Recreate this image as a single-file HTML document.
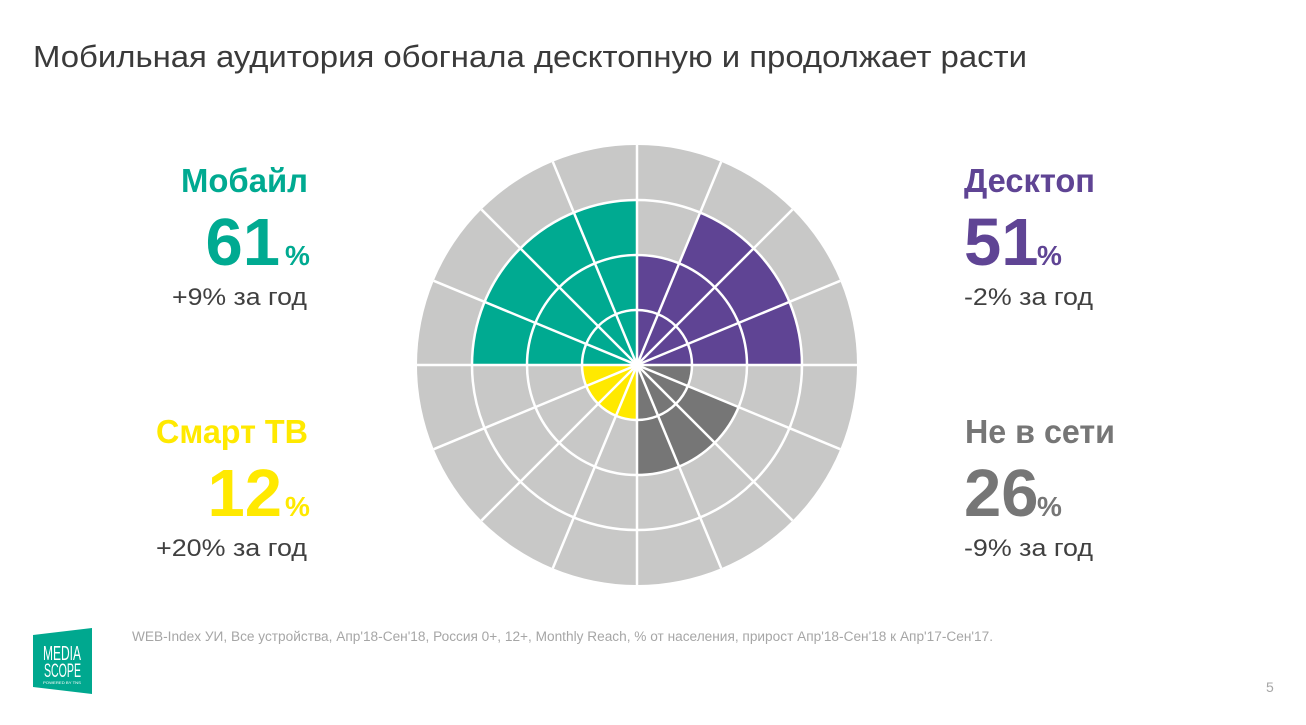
<!DOCTYPE html>
<html>
<head>
<meta charset="utf-8">
<style>
  html, body { margin:0; padding:0; background:#fff; }
  body { width:1306px; height:725px; overflow:hidden; }
  svg { display:block; }
  text { font-family: "Liberation Sans", "Noto Sans CJK SC", sans-serif; }
</style>
</head>
<body>
<svg width="1306" height="725" viewBox="0 0 1306 725" xmlns="http://www.w3.org/2000/svg">
  <rect width="1306" height="725" fill="#ffffff"/>

  <!-- Title -->
  <text x="33" y="67" font-size="31" fill="#3a3a3a" textLength="994" lengthAdjust="spacingAndGlyphs">Мобильная аудитория обогнала десктопную и продолжает расти</text>

  <!-- Polar chart -->
  <circle cx="637" cy="365" r="220" fill="#c8c8c7"/>
  <!-- Purple (desktop) -->
  <path d="M637,365 L637,255 A110,110 0 0 1 679.1,263.37 Z" fill="#5f4494"/>
  <path d="M637,365 L700.14,212.56 A165,165 0 0 1 802,365 Z" fill="#5f4494"/>
  <!-- Teal (mobile) -->
  <path d="M637,365 L472,365 A165,165 0 0 1 637,200 Z" fill="#00aa91"/>
  <!-- Dark gray (offline) -->
  <path d="M637,365 L692,365 A55,55 0 0 1 687.81,386.05 Z" fill="#767676"/>
  <path d="M637,365 L738.63,407.10 A110,110 0 0 1 637,475 Z" fill="#767676"/>
  <!-- Yellow (smart TV) -->
  <path d="M637,365 L637,420 A55,55 0 0 1 582,365 Z" fill="#ffe900"/>

  <!-- White grid -->
  <g stroke="#ffffff" stroke-width="2.5" fill="none">
    <circle cx="637" cy="365" r="55"/>
    <circle cx="637" cy="365" r="110"/>
    <circle cx="637" cy="365" r="165"/>
    <line x1="637" y1="144" x2="637" y2="586"/>
    <line x1="721.19" y1="161.75" x2="552.81" y2="568.25"/>
    <line x1="792.56" y1="209.44" x2="481.44" y2="520.56"/>
    <line x1="840.25" y1="280.81" x2="433.75" y2="449.19"/>
    <line x1="858" y1="365" x2="416" y2="365"/>
    <line x1="840.25" y1="449.19" x2="433.75" y2="280.81"/>
    <line x1="792.56" y1="520.56" x2="481.44" y2="209.44"/>
    <line x1="721.19" y1="568.25" x2="552.81" y2="161.75"/>
  </g>

  <!-- Mobile -->
  <text x="181" y="192" font-size="33" font-weight="bold" fill="#00aa91" textLength="127" lengthAdjust="spacingAndGlyphs">Мобайл</text>
  <text x="280" y="265" font-size="67" font-weight="bold" fill="#00aa91" text-anchor="end">61</text>
  <text x="285" y="265" font-size="28" font-weight="bold" fill="#00aa91">%</text>
  <text x="172" y="305" font-size="24" fill="#404040" textLength="135" lengthAdjust="spacingAndGlyphs">+9% за год</text>

  <!-- Smart TV -->
  <text x="156" y="443" font-size="33" font-weight="bold" fill="#ffe900" textLength="152" lengthAdjust="spacingAndGlyphs">Смарт ТВ</text>
  <text x="282" y="516" font-size="67" font-weight="bold" fill="#ffe900" text-anchor="end">12</text>
  <text x="285" y="516" font-size="28" font-weight="bold" fill="#ffe900">%</text>
  <text x="156" y="556" font-size="24" fill="#404040" textLength="151" lengthAdjust="spacingAndGlyphs">+20% за год</text>

  <!-- Desktop -->
  <text x="964" y="192" font-size="33" font-weight="bold" fill="#5f4494" textLength="131" lengthAdjust="spacingAndGlyphs">Десктоп</text>
  <text x="964" y="265" font-size="67" font-weight="bold" fill="#5f4494">51</text>
  <text x="1037" y="265" font-size="28" font-weight="bold" fill="#5f4494">%</text>
  <text x="964" y="305" font-size="24" fill="#404040" textLength="129" lengthAdjust="spacingAndGlyphs">-2% за год</text>

  <!-- Offline -->
  <text x="965" y="443" font-size="33" font-weight="bold" fill="#767676" textLength="150" lengthAdjust="spacingAndGlyphs">Не в сети</text>
  <text x="964" y="516" font-size="67" font-weight="bold" fill="#767676">26</text>
  <text x="1037" y="516" font-size="28" font-weight="bold" fill="#767676">%</text>
  <text x="964" y="556" font-size="24" fill="#404040" textLength="129" lengthAdjust="spacingAndGlyphs">-9% за год</text>

  <!-- Footnote -->
  <text x="132" y="641" font-size="13.5" fill="#a6a6a6" textLength="861" lengthAdjust="spacingAndGlyphs">WEB-Index УИ, Все устройства, Апр'18-Сен'18, Россия 0+, 12+, Monthly Reach, % от населения, прирост Апр'18-Сен'18 к Апр'17-Сен'17.</text>

  <!-- Page number -->
  <text x="1266" y="692" font-size="14" fill="#a6a6a6">5</text>

  <!-- Logo -->
  <polygon points="33,635 92,628 92,694 33,687" fill="#00a88f"/>
  <text x="43" y="660" font-size="20" fill="#ffffff" textLength="38" lengthAdjust="spacingAndGlyphs">MEDIA</text>
  <text x="44" y="677" font-size="19" fill="#ffffff" textLength="37" lengthAdjust="spacingAndGlyphs">SCOPE</text>
  <text x="43" y="684" font-size="4" fill="#ffffff" textLength="38" lengthAdjust="spacingAndGlyphs">POWERED BY TNS</text>
</svg>
</body>
</html>
